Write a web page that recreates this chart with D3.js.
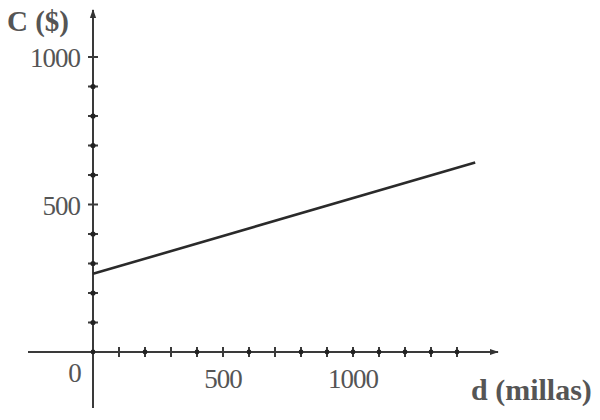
<!doctype html>
<html>
<head>
	<style>
		body{margin:0;background:#fff;}
		text{font-family:"Liberation Serif","DejaVu Serif",serif;fill:#555;}
		.lbl{font-weight:bold;}
	</style>
</head>
<body>
	<div id="root"></div>
	<script src="https://d3js.org/d3.v7.min.js"></script>
	<script>
		var W = 600, H = 420;

		// data
		var xTicks = [100, 200, 300, 400, 500, 600, 700, 800, 900, 1000, 1100, 1200, 1300, 1400];
		var yTicks = [100, 200, 300, 400, 500, 600, 700, 800, 900, 1000];
		var xLabels = [500, 1000];
		var yLabels = [500, 1000];
		var distance = [0, 1470];
		var cost = [265, 642];

		var x = d3.scaleLinear().domain([0, 1400]).range([93, 457]);
		var y = d3.scaleLinear().domain([0, 1000]).range([352, 57]);

		var svg = d3.select('#root').append('svg')
			.attr('width', W)
			.attr('height', H);

		var defs = svg.append('defs');
		defs.append('marker')
			.attr('id', 'arr')
			.attr('viewBox', '0 0 10 10')
			.attr('refX', 9).attr('refY', 5)
			.attr('markerWidth', 9).attr('markerHeight', 9)
			.attr('markerUnits', 'userSpaceOnUse')
			.attr('orient', 'auto')
			.append('path')
			.attr('d', 'M0,1.5L10,5L0,8.5Z')
			.attr('fill', '#333');

		var axisCol = '#3a3a3a';

		// x axis
		svg.append('line')
			.attr('x1', 28).attr('x2', 498)
			.attr('y1', y(0)).attr('y2', y(0))
			.attr('stroke', axisCol).attr('stroke-width', 2)
			.attr('marker-end', 'url(#arr)');
		// y axis
		svg.append('line')
			.attr('x1', x(0)).attr('x2', x(0))
			.attr('y1', 408).attr('y2', 10)
			.attr('stroke', axisCol).attr('stroke-width', 2)
			.attr('marker-end', 'url(#arr)');

		// x ticks
		svg.selectAll('.xt').data(xTicks).enter().append('line')
			.attr('x1', function(d){ return x(d); })
			.attr('x2', function(d){ return x(d); })
			.attr('y1', y(0) - 5).attr('y2', y(0) + 5)
			.attr('stroke', axisCol).attr('stroke-width', 2);
		svg.selectAll('.xd').data(xTicks.filter(function(d){ return d % 200 === 0 || d > 700; })).enter().append('circle')
			.attr('cx', function(d){ return x(d); })
			.attr('cy', y(0))
			.attr('r', 2.4)
			.attr('fill', '#222');

		// y ticks
		svg.selectAll('.yt').data(yTicks).enter().append('line')
			.attr('x1', x(0) - 5).attr('x2', x(0) + 5)
			.attr('y1', function(d){ return y(d); })
			.attr('y2', function(d){ return y(d); })
			.attr('stroke', axisCol).attr('stroke-width', 2);
		svg.selectAll('.yd').data(yTicks.filter(function(d){ return d % 500 !== 0; })).enter().append('circle')
			.attr('cx', x(0))
			.attr('cy', function(d){ return y(d); })
			.attr('r', 2.6)
			.attr('fill', '#222');
		svg.append('circle').attr('cx', x(0)).attr('cy', y(0)).attr('r', 2.4).attr('fill', '#222');

		// tick labels
		svg.selectAll('.yl').data(yLabels).enter().append('text')
			.attr('x', 80)
			.attr('y', function(d){ return y(d) + 10; })
			.attr('text-anchor', 'end')
			.attr('font-size', 27)
			.style('letter-spacing', '-1px')
			.text(function(d){ return d; });
		svg.selectAll('.xl').data(xLabels).enter().append('text')
			.attr('x', function(d){ return x(d); })
			.attr('y', 388)
			.attr('text-anchor', 'middle')
			.attr('font-size', 27)
			.style('letter-spacing', '-1px')
			.text(function(d){ return d; });
		svg.append('text')
			.attr('x', 75).attr('y', 382)
			.attr('text-anchor', 'middle')
			.attr('font-size', 27)
			.text('0');

		// axis titles
		svg.append('text').attr('class', 'lbl')
			.attr('x', 7).attr('y', 31)
			.attr('font-size', 29)
			.text('C ($)');
		svg.append('text').attr('class', 'lbl')
			.attr('x', 471).attr('y', 400)
			.attr('font-size', 30)
			.text('d (millas)');

		// the line
		var pts = distance.map(function(d, i){ return [d, cost[i]]; });
		svg.append('path')
			.datum(pts)
			.attr('fill', 'none')
			.attr('stroke', '#2a2a2a')
			.attr('stroke-width', 2.6)
			.attr('d', d3.line()
				.x(function(d){ return x(d[0]); })
				.y(function(d){ return y(d[1]); }));
	</script>
</body>
</html>
